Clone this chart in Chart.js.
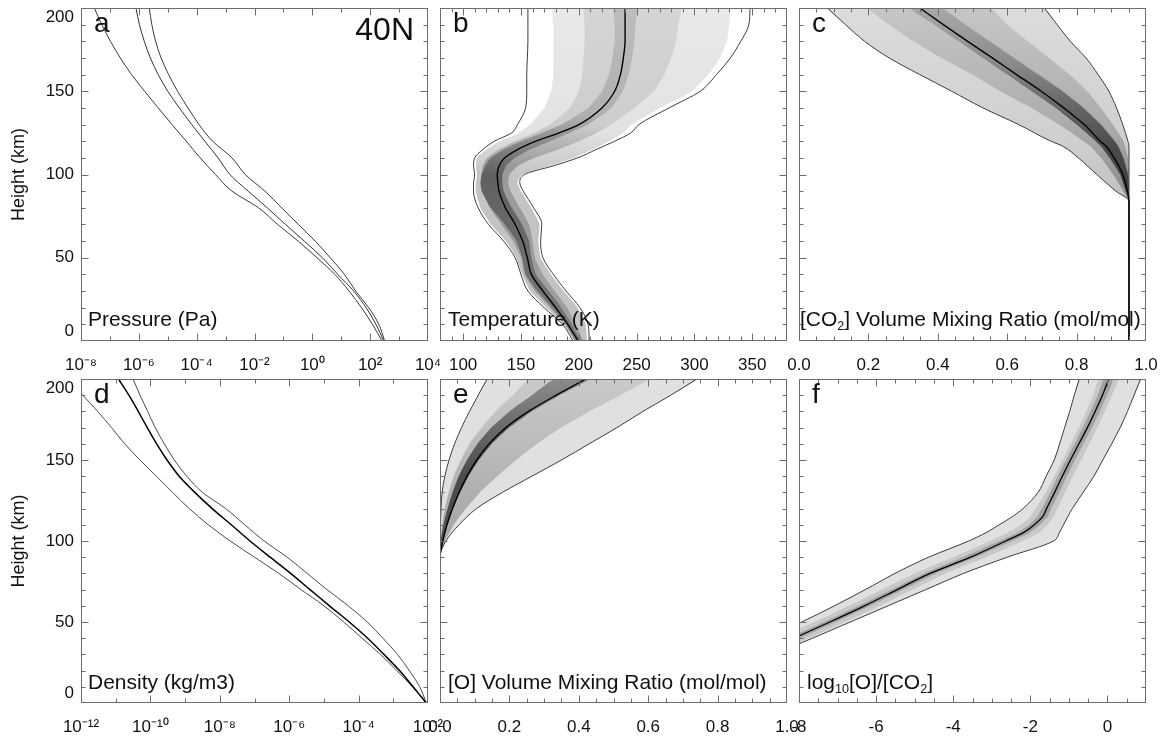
<!DOCTYPE html>
<html><head><meta charset="utf-8">
<script src="https://cdn.jsdelivr.net/npm/chart.js@4/dist/chart.umd.min.js"></script>
<style>
html,body{margin:0;padding:0;background:#fff;}
body{width:1164px;height:742px;position:relative;overflow:hidden;}
canvas{position:absolute;}
</style></head><body>
<script>
// ---------------- DATA ----------------
const heightKm = [0,10,20,30,40,50,60,70,80,90,100,110,120,130,140,150,160,170,180,190,200];
// panel a: log10 pressure (Pa)
const pressureLogMin  = [2.41,2.08,1.70,1.27,0.78,0.16,-0.49,-1.2,-1.86,-2.78,-3.35,-3.88,-4.36,-4.85,-5.33,-5.8,-6.25,-6.64,-6.98,-7.28,-7.54];
const pressureLogMean = [2.47,2.2,1.86,1.43,0.88,0.35,-0.28,-0.93,-1.56,-2.22,-2.85,-3.26,-3.72,-4.17,-4.6,-5.0,-5.33,-5.6,-5.81,-5.98,-6.1];
const pressureLogMax  = [2.5,2.3,1.95,1.5,1.11,0.62,0.1,-0.48,-1.06,-1.64,-2.32,-2.78,-3.45,-3.92,-4.3,-4.66,-4.97,-5.23,-5.42,-5.55,-5.64];
// panel d: log10 density (kg/m3)
const densityLogMin  = [-2.03,-2.45,-2.9,-3.37,-3.9,-4.43,-5.0,-5.66,-6.3,-7.0,-7.7,-8.33,-8.88,-9.36,-9.83,-10.3,-10.74,-11.12,-11.52,-11.95,-12.4];
const densityLogMean = [-2.05,-2.43,-2.82,-3.27,-3.74,-4.27,-4.84,-5.4,-5.96,-6.55,-7.13,-7.67,-8.22,-8.72,-9.17,-9.52,-9.82,-10.09,-10.35,-10.62,-10.92];
const densityLogMax  = [-2.05,-2.24,-2.54,-2.88,-3.3,-3.75,-4.3,-4.91,-5.48,-6.06,-6.72,-7.28,-7.83,-8.5,-8.95,-9.31,-9.6,-9.86,-10.08,-10.3,-10.5];
// panel b: temperature (K)
const tempHeightKm = [0,10,20,30,40,50,60,70,80,90,95,100,105,110,115,120,125,130,140,150,160,170,180,190,200];
const tempMean    = [199.5,190.5,180,169,159,155.5,151.5,145,136.5,131,130,129.5,131,136,147,163,183,200,220,231,236,238.5,240,240,240];
const tempMin     = [195,186,170,156,150,145,135,122,113,109,109,110,109,110,117,127,142,147,154,155,155,155.5,156,156,156];
const tempMax     = [209,208,201,189,178,169,167,168,161,152,149,153,177,199,215,231,245,252,278,305,319,331,340,347,348];
const tempLightLo = [196,187,172,158,151,146,137,124,115,111,111,112,111,112,120,132,148,158,170,176,178,178,178,178,178];
const tempLightHi = [207,206,199,187,176,167,165,166,159,150,147,151,174,196,212,226,238,246,270,298,312,322,328,330,330];
const tempMidLo   = [197,188,175,162,153,150,143,133,123,117,116,116,117,121,131,145,162,175,192,200,203,204,205,205,205];
const tempMidHi   = [204,197,190,179,169,162,160,157,149,141,139,140,147,162,182,200,215,228,248,265,274,280,284,286,288];
const tempCoreLo  = [197,189,177,164,154,151,146,136,124,116,115,116,119,124,135,150,168,185,208,220,226,229,231,231,231];
const tempCoreHi  = [202,194,185,174,163,159,157,151,142,135,134,134,137,145,158,175,192,208,228,238,243,246,248,249,250];
// panel c: CO2 volume mixing ratio
const co2HeightKm = [0,84,90,100,110,117,120,130,140,150,160,170,180,190,200];
const co2Mean   = [0.951,0.951,0.946,0.933,0.908,0.885,0.868,0.822,0.763,0.698,0.627,0.557,0.486,0.416,0.348];
const co2Min    = [0.951,0.951,0.913,0.858,0.805,0.760,0.726,0.633,0.530,0.440,0.348,0.260,0.189,0.134,0.082];
const co2Max    = [0.951,0.951,0.951,0.951,0.951,0.951,0.948,0.933,0.915,0.893,0.862,0.827,0.782,0.744,0.707];
const co2MidLo  = [0.951,0.951,0.935,0.905,0.87,0.84,0.82,0.75,0.67,0.58,0.50,0.41,0.33,0.26,0.20];
const co2MidHi  = [0.951,0.951,0.951,0.951,0.948,0.94,0.935,0.905,0.87,0.83,0.78,0.72,0.66,0.60,0.55];
const co2CoreLo = [0.951,0.951,0.942,0.925,0.895,0.87,0.855,0.80,0.74,0.67,0.60,0.53,0.46,0.39,0.32];
const co2CoreHi = [0.951,0.951,0.951,0.948,0.935,0.92,0.91,0.87,0.82,0.76,0.69,0.62,0.55,0.48,0.41];
// panel e: O volume mixing ratio
const oHeightKm = [0,90,100,110,120,130,140,150,160,170,180,190,200];
const oMean   = [0,0,0.008,0.02,0.036,0.055,0.078,0.106,0.142,0.19,0.255,0.335,0.421];
const oMin    = [0,0,0,0.001,0.003,0.006,0.014,0.026,0.042,0.062,0.085,0.11,0.136];
const oMax    = [0,0,0.017,0.055,0.105,0.18,0.265,0.35,0.43,0.51,0.585,0.665,0.74];
const oMidLo  = [0,0,0.001,0.006,0.014,0.025,0.04,0.06,0.085,0.12,0.16,0.21,0.26];
const oMidHi  = [0,0,0.014,0.04,0.075,0.115,0.165,0.22,0.28,0.35,0.43,0.52,0.6];
const oCoreLo = [0,0,0.002,0.01,0.022,0.036,0.054,0.078,0.108,0.148,0.2,0.265,0.33];
const oCoreHi = [0,0,0.009,0.022,0.038,0.058,0.082,0.112,0.15,0.2,0.265,0.345,0.43];
// panel f: log10 [O]/[CO2]
const ratioHeightKm = [30,35,40,50,60,70,80,90,100,105,110,115,120,130,140,150,160,170,180,190,200];
const ratioMean   = [-9.05,-8.6,-8.13,-7.2,-6.3,-5.45,-4.6,-3.55,-2.64,-2.19,-1.9,-1.68,-1.58,-1.37,-1.17,-0.96,-0.74,-0.52,-0.32,-0.13,0.03];
const ratioMin    = [-9.75,-9.3,-8.85,-7.93,-7.08,-6.28,-5.51,-4.64,-3.6,-3.16,-2.81,-2.47,-2.19,-1.8,-1.59,-1.38,-1.24,-1.11,-0.98,-0.86,-0.73];
const ratioMax    = [-8.6,-8.15,-7.65,-6.67,-5.69,-4.71,-3.73,-2.6,-1.4,-1.25,-1.14,-1.03,-0.91,-0.63,-0.35,-0.12,0.11,0.33,0.52,0.69,0.86];
const ratioMidLo  = [-9.45,-9.0,-8.55,-7.6,-6.7,-5.85,-5.0,-4.0,-3.05,-2.6,-2.25,-2.0,-1.87,-1.6,-1.38,-1.16,-0.95,-0.74,-0.55,-0.37,-0.22];
const ratioMidHi  = [-8.7,-8.25,-7.75,-6.8,-5.9,-5.05,-4.2,-3.15,-2.2,-1.78,-1.55,-1.4,-1.3,-1.1,-0.9,-0.68,-0.47,-0.26,-0.07,0.12,0.28];
const ratioCoreLo = [-9.2,-8.75,-8.28,-7.35,-6.45,-5.6,-4.75,-3.75,-2.8,-2.35,-2.03,-1.82,-1.7,-1.49,-1.29,-1.07,-0.85,-0.64,-0.44,-0.25,-0.09];
const ratioCoreHi = [-8.9,-8.45,-7.98,-7.05,-6.15,-5.3,-4.45,-3.42,-2.48,-2.03,-1.75,-1.55,-1.46,-1.25,-1.05,-0.84,-0.62,-0.4,-0.2,-0.01,0.15];

// tick values
const heightTicks = [0,50,100,150,200];
const heightMinorTicks = [10,20,30,40,60,70,80,90,110,120,130,140,160,170,180,190];
const pressureTicks = [1e-8,1e-6,1e-4,1e-2,1,1e2,1e4];
const pressureMinorTicks = [1e-7,1e-5,1e-3,1e-1,1e1,1e3];
const densityTicks = [1e-12,1e-10,1e-8,1e-6,1e-4,1e-2];
const densityMinorTicks = [1e-11,1e-9,1e-7,1e-5,1e-3];
const tempTicks = [100,150,200,250,300,350];
const vmrTicks = [0,0.2,0.4,0.6,0.8,1.0];
const ratioTicks = [-8,-6,-4,-2,0];

// ---------------- helpers ----------------
const FAMILY = "'Liberation Sans', Arial, Helvetica, sans-serif";
Chart.defaults.font.family = FAMILY;
Chart.defaults.color = '#111';
const range = (a, b, s) => { const r = []; for (let v = a; v <= b + 1e-9; v += s) r.push(+v.toFixed(4)); return r; };
const minorOf = (all, major) => all.filter(v => !major.some(m => Math.abs(m - v) < 1e-6));
const pow = v => Math.pow(10, v);
const prof = (H, X, f = v => v) => H.map((h, i) => ({x: f(X[i]), y: h}));
const band = (H, lo, hi, f) => prof(H, lo, f).concat(prof(H, hi, f).reverse());
const SUP = {'-':'\u207B','0':'\u2070','1':'\u00B9','2':'\u00B2','3':'\u00B3','4':'\u2074','5':'\u2075','6':'\u2076','7':'\u2077','8':'\u2078','9':'\u2079'};
const pow10Label = v => '10' + String(Math.round(Math.log10(v))).split('').map(c => SUP[c]).join('');

function vGrad(stops) {
  return (c) => {
    const ch = c.chart, y = ch.scales && ch.scales.y;
    if (!ch.chartArea || !y) return stops[0][1];
    const g = ch.ctx.createLinearGradient(0, y.getPixelForValue(0), 0, y.getPixelForValue(200));
    stops.forEach(([h, col]) => g.addColorStop(h / 200, col));
    return g;
  };
}
const lineDS = (data, color, width, order) => ({data, borderColor: color, borderWidth: width, fill: false, pointRadius: 0, order, cubicInterpolationMode: 'monotone'});
const bandDS = (data, bg, order) => ({data, borderWidth: 0, borderColor: 'rgba(0,0,0,0)', backgroundColor: bg, fill: 'shape', pointRadius: 0, order, tension: 0.15});

function frameTicksPlugin(t) {
  return {
    id: 'frameTicks',
    afterDatasetsDraw(chart) {
      const {ctx, chartArea: a, scales: {x, y}} = chart;
      const L = Math.round(a.left) + 0.5, R = Math.round(a.right) - 0.5, T = Math.round(a.top) + 0.5, B = Math.round(a.bottom) - 0.5;
      ctx.save();
      ctx.strokeStyle = '#6e6e6e'; ctx.lineWidth = 1;
      ctx.beginPath();
      const xt = (vals, len) => vals.forEach(v => { const p = Math.round(x.getPixelForValue(v)) + 0.5; if (p < L || p > R) return; ctx.moveTo(p, B); ctx.lineTo(p, B - len); ctx.moveTo(p, T); ctx.lineTo(p, T + len); });
      const yt = (vals, len) => vals.forEach(v => { const p = Math.round(y.getPixelForValue(v)) + 0.5; if (p < T || p > B) return; ctx.moveTo(L, p); ctx.lineTo(L + len, p); ctx.moveTo(R, p); ctx.lineTo(R - len, p); });
      xt(t.xMajor, 7); xt(t.xMinor, 4); yt(heightTicks, 7); yt(heightMinorTicks, 4);
      ctx.stroke();
      ctx.strokeRect(L, T, R - L, B - T);
      ctx.restore();
    }
  };
}
function drawRich(ctx, parts, x, y, size, align) {
  const segs = parts.map(p => typeof p === 'string' ? {t: p, sub: false} : p);
  let total = 0;
  segs.forEach(s => { ctx.font = `${s.sub ? size * 0.6 : size}px ${FAMILY}`; s.w = ctx.measureText(s.t).width; total += s.w; });
  let cx = align === 'right' ? x - total : x;
  segs.forEach(s => { ctx.font = `${s.sub ? size * 0.6 : size}px ${FAMILY}`; ctx.fillText(s.t, cx, s.sub ? y + size * 0.18 : y); cx += s.w; });
}
function textPlugin(items) {
  return {
    id: 'panelText',
    afterDraw(chart) {
      const {ctx, chartArea: a} = chart;
      ctx.save(); ctx.fillStyle = '#111'; ctx.textBaseline = 'alphabetic'; ctx.textAlign = 'left';
      items.forEach(it => {
        const x = it.right ? a.right - it.dx : a.left + it.dx;
        const y = it.bottom ? a.bottom - it.dy : a.top + it.dy;
        drawRich(ctx, it.parts, x, y, it.size, it.right ? 'right' : 'left');
      });
      ctx.restore();
    }
  };
}

const colLeft = [81, 440, 799], colML = [81, 20, 20], colMR = [25, 25, 17];
const rowTop = [8, 379], rowH = [333, 324], rowMT = [8, 14], rowMB = [40, 39];
const PW = 347;

function makePanel(p) {
  const ML = colML[p.col], MR = colMR[p.col], MT = rowMT[p.row], MB = rowMB[p.row], H = rowH[p.row];
  const yShow = p.col === 0;
  const c = document.createElement('canvas');
  c.width = ML + PW + MR; c.height = MT + H + MB;
  c.style.left = (colLeft[p.col] - ML) + 'px'; c.style.top = (rowTop[p.row] - MT) + 'px';
  document.body.appendChild(c);
  new Chart(c, {
    type: 'line',
    data: {datasets: p.datasets},
    options: {
      indexAxis: 'y',
      responsive: false, animation: false, events: [],
      layout: {padding: {left: yShow ? 0 : ML, right: MR, top: MT, bottom: 0}},
      plugins: {legend: {display: false}, tooltip: {enabled: false}},
      scales: {
        x: Object.assign({}, p.x, {
          position: 'bottom',
          grid: {display: false, drawTicks: false}, border: {display: false},
          ticks: {autoSkip: false, maxRotation: 0, minRotation: 0, padding: 14, font: {size: 17}, color: '#111', callback: p.xLabel},
          afterBuildTicks: s => { s.ticks = p.xTicks.map(v => ({value: v})); },
          afterFit: s => { s.height = MB; s.paddingLeft = 0; s.paddingRight = 0; }
        }),
        y: {
          type: 'linear', min: 0, max: 200, display: yShow, position: 'left',
          grid: {display: false, drawTicks: false}, border: {display: false},
          ticks: {autoSkip: false, padding: 7, font: {size: 17, lineHeight: 1.1}, color: '#111',
                  callback: v => v === 200 ? ['', '200'] : (v === 0 ? ['0', ''] : String(v))},
          title: {display: yShow, text: 'Height (km)', font: {size: 18}, color: '#111', padding: {top: 8, bottom: 0}},
          afterBuildTicks: s => { s.ticks = heightTicks.map(v => ({value: v})); },
          afterFit: s => { if (yShow) { s.width = ML; } s.paddingTop = 0; s.paddingBottom = 0; }
        }
      }
    },
    plugins: [frameTicksPlugin({xMajor: p.xTicks, xMinor: p.xMinor}), textPlugin(p.texts)]
  });
}

const ENV = '#3c3c3c';
const letter = t => ({parts: [t], dx: 13, dy: 24, size: 28});
const varLabel = (parts, dx, dy) => ({parts, dx, dy, bottom: true, size: 21});

// a: Pressure
makePanel({col: 0, row: 0,
  x: {type: 'logarithmic', min: 1e-8, max: 1e4}, xTicks: pressureTicks, xMinor: pressureMinorTicks, xLabel: pow10Label,
  datasets: [
    lineDS(prof(heightKm, pressureLogMean, pow), '#333', 1, 0),
    lineDS(prof(heightKm, pressureLogMin, pow), '#3a3a3a', 1, 1),
    lineDS(prof(heightKm, pressureLogMax, pow), '#3a3a3a', 1, 1)
  ],
  texts: [letter('a'), {parts: ['40N'], dx: 14, dy: 32, right: true, size: 32}, varLabel(['Pressure (Pa)'], 7, 15)]
});
// b: Temperature
makePanel({col: 1, row: 0,
  x: {type: 'linear', min: 80, max: 380}, xTicks: tempTicks, xMinor: minorOf(range(80, 380, 10), tempTicks), xLabel: v => String(v),
  datasets: [
    lineDS(prof(tempHeightKm, tempMean), '#000', 1.4, 0),
    lineDS(prof(tempHeightKm, tempMin), ENV, 1, 1),
    lineDS(prof(tempHeightKm, tempMax), ENV, 1, 1),
    bandDS(band(tempHeightKm, tempCoreLo, tempCoreHi), vGrad([[0,'#7a7a7a'],[100,'#606060'],[115,'#808080'],[135,'#b0b0b0'],[200,'#bdbdbd']]), 2),
    bandDS(band(tempHeightKm, tempMidLo, tempMidHi), vGrad([[0,'#a0a0a0'],[105,'#9a9a9a'],[130,'#cdcdcd'],[200,'#d5d5d5']]), 3),
    bandDS(band(tempHeightKm, tempLightLo, tempLightHi), vGrad([[0,'#c2c2c2'],[100,'#c4c4c4'],[125,'#e2e2e2'],[200,'#e9e9e9']]), 4)
  ],
  texts: [letter('b'), varLabel(['Temperature (K)'], 8, 15)]
});
// c: CO2 VMR
makePanel({col: 2, row: 0,
  x: {type: 'linear', min: 0, max: 1}, xTicks: vmrTicks, xMinor: minorOf(range(0, 1, 0.05), vmrTicks), xLabel: v => v.toFixed(1),
  datasets: [
    lineDS(prof(co2HeightKm, co2Mean), '#000', 1.4, 0),
    lineDS(prof(co2HeightKm, co2Min), ENV, 1, 1),
    lineDS(prof(co2HeightKm, co2Max), ENV, 1, 1),
    bandDS(band(co2HeightKm, co2CoreLo, co2CoreHi), vGrad([[84,'#3c3c3c'],[115,'#4a4a4a'],[140,'#666666'],[170,'#8e8e8e'],[200,'#a8a8a8']]), 2),
    bandDS(band(co2HeightKm, co2MidLo, co2MidHi), vGrad([[84,'#8a8a8a'],[130,'#acacac'],[200,'#c6c6c6']]), 3),
    bandDS(band(co2HeightKm, co2Min, co2Max), vGrad([[84,'#c0c0c0'],[120,'#cfcfcf'],[200,'#dcdcdc']]), 4)
  ],
  texts: [letter('c'), varLabel(['[CO', {t: '2', sub: true}, '] Volume Mixing Ratio (mol/mol)'], 1, 15)]
});
// d: Density
makePanel({col: 0, row: 1,
  x: {type: 'logarithmic', min: 1e-12, max: 1e-2}, xTicks: densityTicks, xMinor: densityMinorTicks, xLabel: pow10Label,
  datasets: [
    lineDS(prof(heightKm, densityLogMean, pow), '#000', 1.5, 0),
    lineDS(prof(heightKm, densityLogMin, pow), '#4a4a4a', 1, 1),
    lineDS(prof(heightKm, densityLogMax, pow), '#4a4a4a', 1, 1)
  ],
  texts: [letter('d'), varLabel(['Density (kg/m3)'], 7, 14)]
});
// e: O VMR
makePanel({col: 1, row: 1,
  x: {type: 'linear', min: 0, max: 1}, xTicks: vmrTicks, xMinor: minorOf(range(0, 1, 0.05), vmrTicks), xLabel: v => v.toFixed(1),
  datasets: [
    lineDS(prof(oHeightKm, oMean), '#000', 1.4, 0),
    lineDS(prof(oHeightKm, oMin), ENV, 1, 1),
    lineDS(prof(oHeightKm, oMax), ENV, 1, 1),
    bandDS(band(oHeightKm, oCoreLo, oCoreHi), vGrad([[90,'#505050'],[140,'#4c4c4c'],[170,'#6a6a6a'],[200,'#8c8c8c']]), 2),
    bandDS(band(oHeightKm, oMidLo, oMidHi), vGrad([[90,'#a0a0a0'],[150,'#b8b8b8'],[200,'#cacaca']]), 3),
    bandDS(band(oHeightKm, oMin, oMax), '#e0e0e0', 4)
  ],
  texts: [letter('e'), varLabel(['[O] Volume Mixing Ratio (mol/mol)'], 8, 14)]
});
// f: log10 [O]/[CO2]
makePanel({col: 2, row: 1,
  x: {type: 'linear', min: -8, max: 1}, xTicks: ratioTicks, xMinor: minorOf(range(-8, 1, 0.5), ratioTicks), xLabel: v => String(v),
  datasets: [
    lineDS(prof(ratioHeightKm, ratioMean), '#000', 1.3, 0),
    lineDS(prof(ratioHeightKm, ratioMin), ENV, 1, 1),
    lineDS(prof(ratioHeightKm, ratioMax), ENV, 1, 1),
    bandDS(band(ratioHeightKm, ratioCoreLo, ratioCoreHi), '#a2a2a2', 2),
    bandDS(band(ratioHeightKm, ratioMidLo, ratioMidHi), '#c8c8c8', 3),
    bandDS(band(ratioHeightKm, ratioMin, ratioMax), '#e0e0e0', 4)
  ],
  texts: [letter('f'), varLabel(['log', {t: '10', sub: true}, '[O]/[CO', {t: '2', sub: true}, ']'], 8, 14)]
});
</script>
</body></html>
